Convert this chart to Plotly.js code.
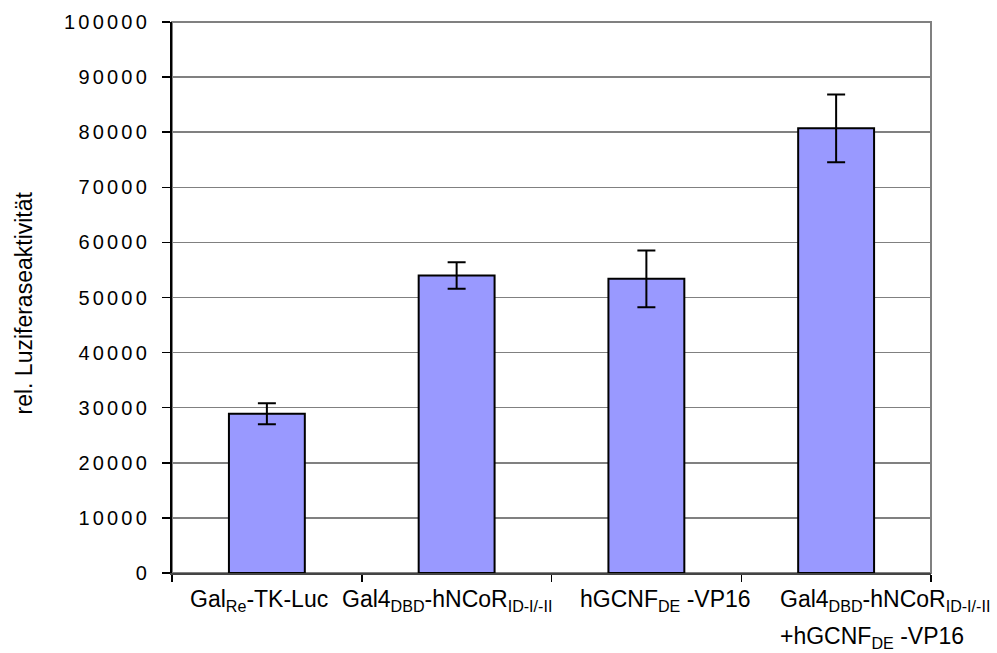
<!DOCTYPE html>
<html>
<head>
<meta charset="utf-8">
<script src="https://cdn.plot.ly/plotly-3.0.1.min.js"></script>
<style>
html, body { margin: 0; padding: 0; background: #fff; }
#chart { width: 997px; height: 653px; }
.yaxislayer-above text { letter-spacing: 3.2px; }
</style>
</head>
<body>
<div id="chart"></div>
<script>
const categories = ['c1', 'c2', 'c3', 'c4'];
const labelLine1 = [
  'Gal<sub>Re</sub>-TK-Luc',
  'Gal4<sub>DBD</sub>-hNCoR<sub>ID-I/-II</sub>',
  'hGCNF<sub>DE</sub> -VP16',
  'Gal4<sub>DBD</sub>-hNCoR<sub>ID-I/-II</sub>'
];
const labelLine2 = ['', '', '', '+hGCNF<sub>DE</sub> -VP16'];
const values = [28900, 54000, 53400, 80700];
const errors = [1900, 2400, 5150, 6150];
const yTitle = 'rel. Luziferaseaktivität';

const FONT = 'Liberation Sans, Arial, sans-serif';

const trace = {
  type: 'bar',
  x: categories,
  y: values,
  width: 0.4,
  marker: { color: '#9999FF', line: { color: '#000000', width: 2 } },
  error_y: { type: 'data', array: errors, visible: true, color: '#000000', thickness: 2, width: 9 },
  hoverinfo: 'none'
};

// label placement offsets (px) relative to category centre, and anchor
const labelShift1 = [-8, -10, 19, -58];
const labelAnchor1 = ['center', 'center', 'center', 'left'];
const annotations = [];
categories.forEach((c, i) => {
  annotations.push({
    x: c, xref: 'x', y: 0, yref: 'paper',
    text: labelLine1[i], showarrow: false,
    xanchor: labelAnchor1[i], yanchor: 'middle',
    xshift: labelShift1[i], yshift: -27,
    font: { family: FONT, size: 23, color: '#000' }
  });
  if (labelLine2[i]) {
    annotations.push({
      x: c, xref: 'x', y: 0, yref: 'paper',
      text: labelLine2[i], showarrow: false,
      xanchor: 'left', yanchor: 'middle',
      xshift: labelShift1[i], yshift: -64,
      font: { family: FONT, size: 23, color: '#000' }
    });
  }
});
annotations.push({
  x: 0, xref: 'paper', xshift: -149, y: 0.5, yref: 'paper', yshift: -6,
  text: yTitle, showarrow: false, textangle: -90,
  xanchor: 'center', yanchor: 'middle',
  font: { family: FONT, size: 23, color: '#000' }
});

const layout = {
  width: 997, height: 653,
  margin: { l: 172, r: 66, t: 22, b: 80 },
  paper_bgcolor: '#fff', plot_bgcolor: '#fff',
  showlegend: false,
  bargap: 0.6,
  font: { family: FONT, color: '#000' },
  xaxis: {
    type: 'category',
    range: [-0.5, 3.5], autorange: false,
    showticklabels: false,
    ticks: 'outside', tickson: 'boundaries', ticklen: 7, tickwidth: 1.5, tickcolor: '#000',
    showline: true, linecolor: '#444', linewidth: 2,
    showgrid: false, zeroline: false, fixedrange: true
  },
  yaxis: {
    range: [0, 100000], dtick: 10000, tick0: 0, tickformat: 'd',
    ticks: 'outside', ticklen: 8, tickwidth: 1.5, tickcolor: '#000',
    ticklabelstandoff: 8,
    tickfont: { family: FONT, size: 20, color: '#000' },
    showline: true, linecolor: '#000', linewidth: 2,
    showgrid: true, gridcolor: '#808080', gridwidth: 1.5,
    zeroline: false, fixedrange: true
  },
  shapes: [{
    type: 'rect', xref: 'paper', yref: 'paper', x0: 0, x1: 1, y0: 0, y1: 1,
    line: { color: '#808080', width: 2 }, layer: 'below'
  }],
  annotations: annotations
};

Plotly.newPlot('chart', [trace], layout, { staticPlot: true, displayModeBar: false });
</script>
</body>
</html>
